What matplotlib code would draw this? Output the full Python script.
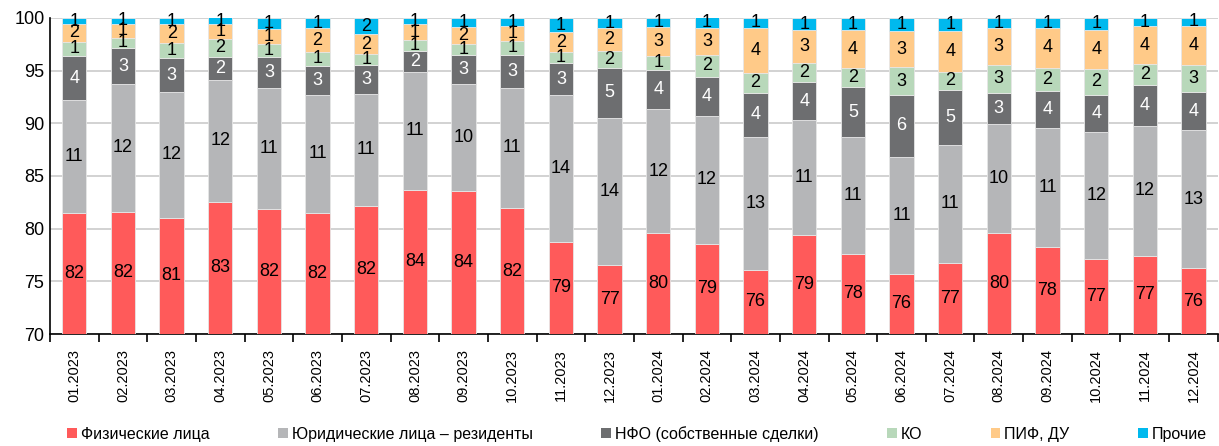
"""
Структура участников торгов по месяцам — stacked bar, 70-100%.
"""

import numpy as np
import matplotlib
matplotlib.use("Agg")
import matplotlib.pyplot as plt
from matplotlib.patches import Patch

MONTHS = ["01.2023", "02.2023", "03.2023", "04.2023", "05.2023", "06.2023",
          "07.2023", "08.2023", "09.2023", "10.2023", "11.2023", "12.2023",
          "01.2024", "02.2024", "03.2024", "04.2024", "05.2024", "06.2024",
          "07.2024", "08.2024", "09.2024", "10.2024", "11.2024", "12.2024"]

# shares, %
individuals = [81.53, 81.62, 81.05, 82.57, 81.91, 81.53, 82.16, 83.71, 83.61, 81.94, 78.78, 76.54,
               79.54, 78.55, 76.10, 79.41, 77.61, 75.74, 76.76, 79.60, 78.24, 77.08, 77.45, 76.22]
legal_res   = [10.67, 12.10, 11.90, 11.55, 11.43, 11.14, 10.61, 11.17, 10.11, 11.43, 13.86, 13.96,
               11.78, 12.15, 12.60, 10.90, 11.09, 11.09, 11.18, 10.33, 11.31, 12.09, 12.32, 13.11]
nfo_own     = [4.17, 3.41, 3.22, 2.21, 2.90, 2.78, 2.75, 1.99, 2.74, 3.13, 3.03, 4.76,
               3.75, 3.73, 4.20, 3.60, 4.73, 5.84, 5.21, 2.93, 3.52, 3.54, 3.82, 3.63]
ko          = [1.36, 0.98, 1.48, 1.65, 1.26, 1.33, 1.01, 1.01, 1.04, 1.32, 1.11, 1.55,
               1.33, 2.02, 1.89, 1.76, 1.83, 2.62, 1.73, 2.69, 2.21, 2.46, 2.05, 2.56]
pif_du      = [1.67, 1.30, 1.74, 1.42, 1.45, 2.21, 1.89, 1.49, 1.65, 1.39, 1.83, 2.18,
               2.75, 2.59, 4.29, 3.16, 3.54, 3.42, 3.89, 3.47, 3.73, 3.72, 3.54, 3.72]
other       = [0.60, 0.60, 0.60, 0.66, 1.05, 1.01, 1.58, 0.63, 0.85, 0.79, 1.39, 1.01,
               0.85, 1.01, 0.92, 1.17, 1.20, 1.29, 1.23, 0.98, 1.01, 1.11, 0.82, 0.76]

SERIES = [
    ("Физические лица",               individuals, "#FF5A5A", "black"),
    ("Юридические лица – резиденты",  legal_res,   "#B5B6B8", "black"),
    ("НФО (собственные сделки)",      nfo_own,     "#6D6E70", "white"),
    ("КО",                            ko,          "#B8D8BA", "black"),
    ("ПИФ, ДУ",                       pif_du,      "#FFCA88", "black"),
    ("Прочие",                        other,       "#00B9EE", "black"),
]

YMIN, YMAX = 70, 100

plt.rcParams["font.family"] = ["Liberation Sans", "DejaVu Sans"]

fig = plt.figure(figsize=(12.19, 4.46), dpi=100)
ax = fig.add_axes([0.041, 0.251, 0.958, 0.709])

x = np.arange(len(MONTHS))
bottom = np.zeros(len(MONTHS))
for name, vals, color, tcolor in SERIES:
    vals = np.array(vals)
    ax.bar(x, vals, bottom=bottom, width=0.5, color=color,
           edgecolor="#E6E6E6", linewidth=0.6, zorder=3)
    for xi, b, v in zip(x, bottom, vals):
        # label sits in the middle of the visible part of the segment
        lo, hi = max(b, YMIN), min(b + v, YMAX)
        ax.text(xi, (lo + hi) / 2, f"{round(v):d}", ha="center", va="center",
                fontsize=13, color=tcolor, zorder=4)
    bottom += vals

ax.set_xlim(-0.5, len(MONTHS) - 0.5)
ax.set_ylim(YMIN, YMAX)
ax.set_yticks(range(YMIN, YMAX + 1, 5))
ax.tick_params(axis="y", labelsize=13, length=0, pad=4)
ax.yaxis.grid(True, color="#CFCFCF", linewidth=1.3, zorder=0)

ax.set_xticks(x)
ax.set_xticklabels(MONTHS, rotation=90, fontsize=10.5)
ax.tick_params(axis="x", length=0, pad=11)
ax.set_xticks(np.arange(-0.5, len(MONTHS), 1.0), minor=True)
ax.tick_params(axis="x", which="minor", length=6, width=1.2, direction="out")

for s in ("top", "right"):
    ax.spines[s].set_visible(False)
ax.spines["left"].set_linewidth(1.2)
ax.spines["bottom"].set_linewidth(1.2)

handles = [Patch(facecolor=c, edgecolor="none", label=n) for n, _, c, _ in SERIES]
fig.legend(handles=handles, loc="center left", bbox_to_anchor=(0.055, 0.027),
           ncol=6, frameon=False, fontsize=11.5, handlelength=0.6, handleheight=0.6,
           handletextpad=0.25, columnspacing=4.3, borderaxespad=0, borderpad=0)

fig.savefig("out.png", dpi=100)
